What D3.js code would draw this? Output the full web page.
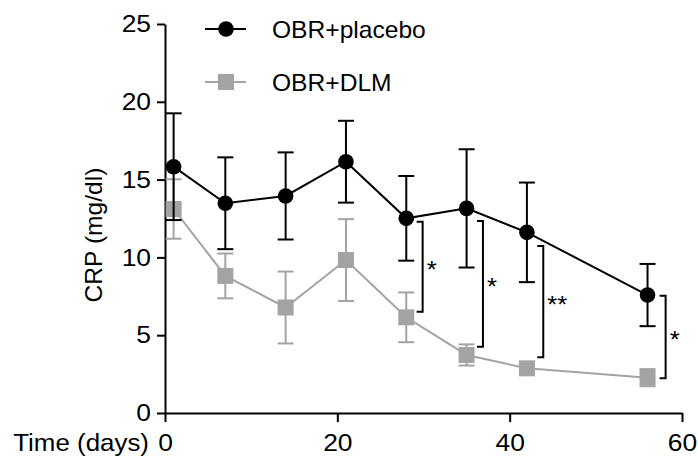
<!DOCTYPE html>
<html><head><meta charset="utf-8">
<script src="https://cdn.jsdelivr.net/npm/d3@7/dist/d3.min.js"></script>
<style>
html,body{margin:0;padding:0;background:#fff;}
svg{display:block;font-family:"Liberation Sans",Arial,Helvetica,sans-serif;}
</style></head>
<body>
<script>
// ---- data ----
const days = [1, 7, 14, 21, 28, 35, 42, 56];
const placeboMean = [15.83, 13.48, 13.95, 16.15, 12.51, 13.15, 11.61, 7.58];
const placeboErr  = [3.43, 2.95, 2.80, 2.63, 2.72, 3.80, 3.20, 2.00];
const dlmMean = [13.11, 8.81, 6.78, 9.83, 6.15, 3.73, 2.87, 2.27];
const dlmErr  = [1.91, 1.44, 2.31, 2.63, 1.60, 0.68, 0.15, 0.55];
const seriesNames = ["OBR+placebo", "OBR+DLM"];
const yTicks = [0, 5, 10, 15, 20, 25];
const xTicks = [0, 20, 40, 60];
const sigDay = [29.9, 36.9, 43.9, 58.1];
const sigTop = [12.29, 12.34, 10.73, 7.54];
const sigBottom = [6.51, 4.26, 3.58, 2.23];
const sigLabel = ["*", "*", "**", "*"];

// ---- layout ----
const W = 698, H = 457;
const BLACK = "#000", GRAY = "#a3a3a5";
const FS = 23, SX = 1.07;      // legend / label text
const TFS = 24, TSX = 1.1;     // tick label text

const svg = d3.select("body").append("svg").attr("width", W).attr("height", H);
const x = d3.scaleLinear().domain([0, 60]).range([165, 682]);
const y = d3.scaleLinear().domain([0, 25]).range([413, 24]);

function stretchText(sel, sx) {
  sel.each(function () {
    const t = d3.select(this);
    const tx = +t.attr("x") || 0, ty = +t.attr("y") || 0;
    t.attr("x", 0).attr("y", 0)
     .attr("transform", `translate(${tx},${ty}) scale(${sx || SX},1)`);
  });
}

// axes
const yAxis = svg.append("g").attr("transform", `translate(${x(0)},0)`)
  .call(d3.axisLeft(y).tickValues(yTicks).tickSize(8).tickSizeOuter(0).tickPadding(6).tickFormat(d3.format("d")));
const xAxis = svg.append("g").attr("transform", `translate(0,${y(0)})`)
  .call(d3.axisBottom(x).tickValues(xTicks).tickSize(9).tickSizeOuter(0).tickPadding(12).tickFormat(d3.format("d")));
[yAxis, xAxis].forEach(a => {
  a.select(".domain").attr("stroke", BLACK).attr("stroke-width", 2);
  a.selectAll(".tick line").attr("stroke", BLACK).attr("stroke-width", 2);
  a.selectAll(".tick text").attr("font-size", TFS).attr("fill", "#000")
    .attr("font-family", '"Liberation Sans",Arial,sans-serif');
});
yAxis.selectAll(".tick text").each(function(){
  d3.select(this).attr("transform", `scale(${TSX},1)`).attr("x", -14 / TSX);
});
xAxis.selectAll(".tick text").attr("transform", `scale(${TSX},1)`);

// axis labels
svg.append("text").attr("x", 149).attr("y", 451).attr("text-anchor", "end")
  .attr("font-size", TFS).text("Time (days)").call(stretchText, 1.08);
svg.append("text")
  .attr("transform", `translate(101.5,235) rotate(-90) scale(${SX},1)`)
  .attr("text-anchor", "middle").attr("font-size", FS).text("CRP (mg/dl)");

// series drawing
function drawSeries(mean, err, color, shape) {
  const g = svg.append("g");
  const pts = days.map((d, i) => ({ d, m: mean[i], e: err[i] }));
  g.append("path").datum(pts)
    .attr("d", d3.line().x(p => x(p.d)).y(p => y(p.m)))
    .attr("fill", "none").attr("stroke", color).attr("stroke-width", 2);
  const eb = g.selectAll(".eb").data(pts).join("g");
  eb.append("line").attr("x1", p => x(p.d)).attr("x2", p => x(p.d))
    .attr("y1", p => y(p.m + p.e)).attr("y2", p => y(p.m - p.e))
    .attr("stroke", color).attr("stroke-width", 2);
  [1, -1].forEach(s => {
    eb.append("line").attr("x1", p => x(p.d) - 8).attr("x2", p => x(p.d) + 8)
      .attr("y1", p => y(p.m + s * p.e)).attr("y2", p => y(p.m + s * p.e))
      .attr("stroke", color).attr("stroke-width", 2);
  });
  if (shape === "circle") {
    g.selectAll(".mk").data(pts).join("circle")
      .attr("cx", p => x(p.d)).attr("cy", p => y(p.m)).attr("r", 7.8).attr("fill", color);
  } else {
    g.selectAll(".mk").data(pts).join("rect")
      .attr("x", p => x(p.d) - 8).attr("y", p => y(p.m) - 8)
      .attr("width", 16).attr("height", 16).attr("fill", color);
  }
}
drawSeries(dlmMean, dlmErr, GRAY, "square");
drawSeries(placeboMean, placeboErr, BLACK, "circle");

// significance brackets
sigDay.forEach((d, i) => {
  const bx = x(d), t = y(sigTop[i]), b = y(sigBottom[i]);
  svg.append("path")
    .attr("d", `M${bx - 6},${t}H${bx}V${b}H${bx - 6}`)
    .attr("fill", "none").attr("stroke", BLACK).attr("stroke-width", 2);
  svg.append("text").attr("x", bx + 4).attr("y", (t + b) / 2 + 11)
    .attr("font-size", 24).text(sigLabel[i]).call(stretchText);
});

// legend
const leg = svg.append("g");
leg.append("line").attr("x1", 205).attr("x2", 246).attr("y1", 29).attr("y2", 29)
  .attr("stroke", BLACK).attr("stroke-width", 2);
leg.append("circle").attr("cx", 226).attr("cy", 29).attr("r", 7.8).attr("fill", BLACK);
leg.append("text").attr("x", 272).attr("y", 37.5).attr("font-size", FS).text(seriesNames[0]).call(stretchText);
leg.append("line").attr("x1", 205).attr("x2", 246).attr("y1", 82).attr("y2", 82)
  .attr("stroke", GRAY).attr("stroke-width", 2);
leg.append("rect").attr("x", 218).attr("y", 74).attr("width", 16).attr("height", 16).attr("fill", GRAY);
leg.append("text").attr("x", 272).attr("y", 90.5).attr("font-size", FS).text(seriesNames[1]).call(stretchText);
</script>
</body></html>
